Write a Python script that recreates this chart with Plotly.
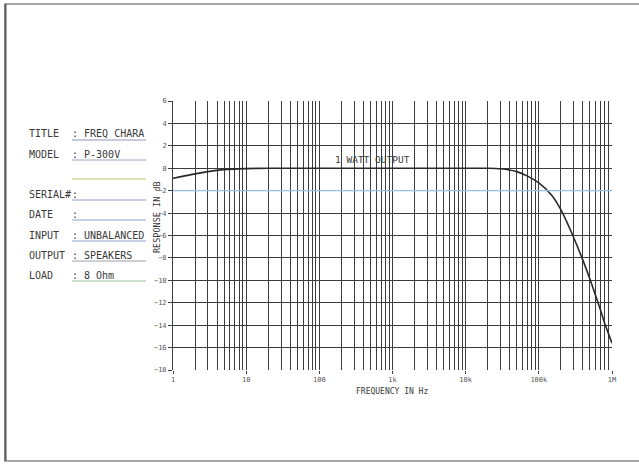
import plotly.graph_objects as go

# Frequency response of the P-300V at 1 W output
freq_hz = [1, 2, 3, 5, 10, 20, 100, 1000, 10000, 20000, 30000, 50000, 70000,
           100000, 150000, 200000, 300000, 400000, 500000, 600000, 700000,
           800000, 900000, 1000000]
response_db = [-0.9, -0.5, -0.3, -0.12, -0.03, 0.0, 0.0, 0.0, 0.0, 0.0, -0.05,
               -0.3, -0.7, -1.3, -2.4, -3.7, -6.2, -8.2, -9.9, -11.4, -12.7,
               -13.9, -14.8, -15.6]

x_tick_vals = [1, 10, 100, 1000, 10000, 100000, 1000000]
x_tick_text = ["1", "10", "100", "1k", "10k", "100k", "1M"]
y_tick_vals = [6, 4, 2, 0, -2, -4, -6, -8, -10, -12, -14, -16, -18]

form_labels = ["TITLE", "MODEL", "", "SERIAL#", "DATE", "INPUT", "OUTPUT", "LOAD"]
form_values = [": FREQ CHARA", ": P-300V", "", ":", ":", ": UNBALANCED",
               ": SPEAKERS", ": 8 Ohm"]

W, H = 639, 465
L, R, T, B = 173, 612, 101, 370


def px(x):
    return (x - L) / (R - L)


def py(y):
    return (B - y) / (B - T)


MONO = "DejaVu Sans Mono"
INK = "#3a3a3a"
GRID = "#3c3c3c"

fig = go.Figure()
fig.add_trace(go.Scatter(
    x=freq_hz, y=response_db, mode="lines",
    line=dict(color="#2a2a2a", width=1.6, shape="spline", smoothing=0.6),
    hoverinfo="skip", showlegend=False,
))

# coloured -2 dB reference line
fig.add_shape(type="line", xref="paper", yref="y", x0=0, x1=1, y0=-2, y1=-2,
              line=dict(color="#93bfe0", width=1.2), layer="above")

fig.add_annotation(x=2.19, y=0.75, xref="x", yref="y", text="1 WATT OUTPUT",
                   showarrow=False, xanchor="left", yanchor="middle",
                   font=dict(family=MONO, size=9.5, color=INK))

# axis titles
fig.add_annotation(x=px(392), y=py(391), xref="paper", yref="paper",
                   text="FREQUENCY IN Hz", showarrow=False,
                   xanchor="center", yanchor="middle",
                   font=dict(family=MONO, size=8, color=INK))
fig.add_annotation(x=px(157), y=py(217), xref="paper", yref="paper",
                   text="RESPONSE IN dB", showarrow=False, textangle=-90,
                   xanchor="center", yanchor="middle",
                   font=dict(family=MONO, size=8.5, color=INK))

# data sheet form on the left
row_y = [133, 154, 174, 194, 214, 235, 255, 275]
line_y = [140, 160, 179, 200, 220, 241, 261, 281]
line_col = ["#8b97b8", "#9aa8c0", "#b7c86a", "#8ea0c8", "#8ea0c8", "#8ea0c8",
            "#9aa0a8", "#9cc0a0"]
for lab, val, yy, ly, lc in zip(form_labels, form_values, row_y, line_y, line_col):
    if lab:
        fig.add_annotation(x=px(27), y=py(yy), xref="paper", yref="paper",
                           text=lab, showarrow=False, xanchor="left",
                           yanchor="middle",
                           font=dict(family=MONO, size=10, color=INK))
    if val:
        fig.add_annotation(x=px(70), y=py(yy), xref="paper", yref="paper",
                           text=val, showarrow=False, xanchor="left",
                           yanchor="middle",
                           font=dict(family=MONO, size=10, color=INK))
    fig.add_shape(type="line", xref="paper", yref="paper",
                  x0=px(72), x1=px(146), y0=py(ly), y1=py(ly),
                  line=dict(color=lc, width=1))

# page frame
fig.add_shape(type="rect", xref="paper", yref="paper",
              x0=px(5), x1=px(650), y0=py(4), y1=py(461),
              line=dict(color="#8a8a8a", width=1.5))
fig.add_shape(type="line", xref="paper", yref="paper",
              x0=px(5.5), x1=px(5.5), y0=py(4), y1=py(461),
              line=dict(color="#5a5a5a", width=2))

fig.update_xaxes(
    type="log", range=[0, 6], tickvals=x_tick_vals, ticktext=x_tick_text,
    showgrid=True, gridcolor=GRID, gridwidth=1,
    minor=dict(dtick="D1", showgrid=True, gridcolor=GRID, gridwidth=1),
    ticks="outside", ticklen=3, tickcolor=GRID,
    tickfont=dict(family=MONO, size=7, color="#555"),
    zeroline=False, showline=False, fixedrange=True,
)
fig.update_yaxes(
    range=[-18, 6], tickvals=y_tick_vals, showgrid=True, gridcolor=GRID,
    gridwidth=1, ticks="outside", ticklen=4, tickcolor=GRID,
    tickfont=dict(family=MONO, size=7, color="#555"),
    zeroline=False, showline=True, linecolor=GRID, linewidth=1,
    mirror=False, fixedrange=True,
)

fig.update_layout(
    width=W, height=H,
    margin=dict(l=L, r=W - R, t=T, b=H - B),
    paper_bgcolor="white", plot_bgcolor="white",
    showlegend=False,
)

fig.write_html("out.html", config={"displayModeBar": False})
